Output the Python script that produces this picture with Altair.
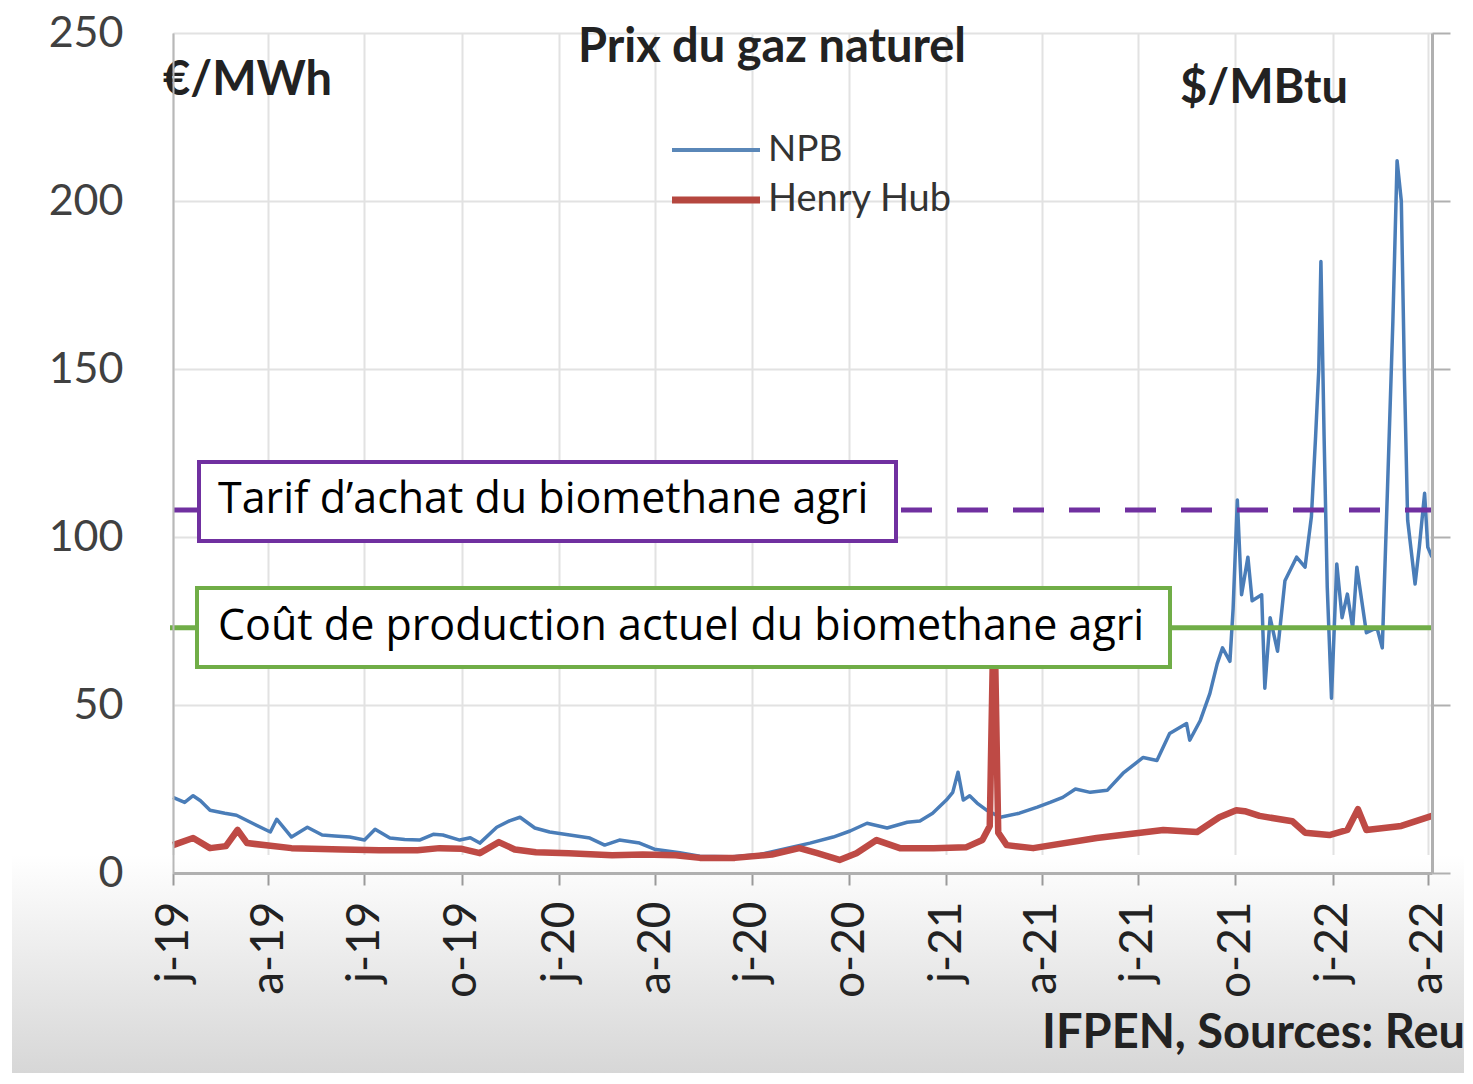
import altair as alt
import pandas as pd

# ---------------- data ----------------
npb_dates = [
    "2019-01-01", "2019-01-12", "2019-01-20", "2019-01-27", "2019-02-05", "2019-02-19",
    "2019-03-02", "2019-03-19", "2019-04-03", "2019-04-09", "2019-04-17", "2019-04-23",
    "2019-05-08", "2019-05-22", "2019-06-03", "2019-06-17", "2019-07-01", "2019-07-11",
    "2019-07-25", "2019-08-08", "2019-08-22", "2019-09-04", "2019-09-13", "2019-09-29",
    "2019-10-09", "2019-10-18", "2019-11-03", "2019-11-15", "2019-11-25", "2019-12-09",
    "2019-12-23", "2020-01-11", "2020-01-30", "2020-02-13", "2020-02-27", "2020-03-17",
    "2020-03-31", "2020-04-24", "2020-05-13", "2020-06-10", "2020-07-09", "2020-08-06",
    "2020-08-25", "2020-09-16", "2020-10-02", "2020-10-18", "2020-11-06", "2020-11-25",
    "2020-12-07", "2020-12-19", "2021-01-01", "2021-01-07", "2021-01-12", "2021-01-17",
    "2021-01-23", "2021-01-30", "2021-02-08", "2021-02-21", "2021-03-11", "2021-03-28",
    "2021-04-09", "2021-04-21", "2021-05-03", "2021-05-17", "2021-06-02", "2021-06-17",
    "2021-07-06", "2021-07-19", "2021-07-31", "2021-08-16", "2021-08-19", "2021-08-29",
    "2021-09-07", "2021-09-14", "2021-09-19", "2021-09-26", "2021-09-29", "2021-10-03",
    "2021-10-07", "2021-10-13", "2021-10-17", "2021-10-26", "2021-10-29", "2021-11-03",
    "2021-11-10", "2021-11-17", "2021-11-28", "2021-12-06", "2021-12-12", "2021-12-16",
    "2021-12-19", "2021-12-21", "2021-12-24", "2021-12-27", "2021-12-31", "2022-01-05",
    "2022-01-10", "2022-01-15", "2022-01-20", "2022-01-24", "2022-02-02", "2022-02-12",
    "2022-02-17", "2022-02-22", "2022-02-27", "2022-03-03", "2022-03-07", "2022-03-10",
    "2022-03-13", "2022-03-20", "2022-03-24", "2022-03-29", "2022-04-01", "2022-04-05",
]
npb_values = [
    22.5, 21.0, 23.0, 21.5, 18.7, 17.8,
    17.2, 14.5, 12.2, 16.0, 13.0, 10.7,
    13.6, 11.3, 11.0, 10.7, 9.8, 13.0,
    10.4, 10.0, 9.8, 11.5, 11.3, 9.8,
    10.5, 8.9, 13.6, 15.5, 16.6, 13.4,
    12.2, 11.3, 10.4, 8.3, 9.8, 8.9,
    7.1, 6.0, 5.0, 4.8, 5.5, 7.5,
    8.9, 10.7, 12.5, 14.8, 13.4, 15.1,
    15.5, 17.8, 21.7, 24.0, 30.0, 21.7,
    23.0, 20.8, 18.7, 16.6, 17.8, 19.6,
    21.0, 22.5, 25.0, 24.0, 24.6, 29.7,
    34.4, 33.5, 41.5, 44.5, 39.5, 45.4,
    53.4, 62.3, 67.0, 63.0, 78.6, 111.0,
    82.8, 94.0, 81.0, 82.8, 55.0, 76.0,
    66.0, 87.0, 94.0, 91.0, 106.0, 130.0,
    150.0, 182.0, 130.0, 85.0, 52.0, 92.0,
    76.0, 83.0, 73.0, 91.0, 71.5, 73.0,
    67.0, 115.0, 164.0, 212.0, 200.0, 147.0,
    105.0, 86.0, 97.0, 113.0, 97.0, 94.0,
]

hh_dates = [
    "2019-01-01", "2019-01-20", "2019-02-05", "2019-02-20", "2019-03-03", "2019-03-12",
    "2019-04-23", "2019-06-10", "2019-07-15", "2019-08-20", "2019-09-10", "2019-10-01",
    "2019-10-18", "2019-11-05", "2019-11-20", "2019-12-10", "2020-01-10", "2020-02-20",
    "2020-03-20", "2020-04-20", "2020-05-13", "2020-06-15", "2020-07-20", "2020-08-15",
    "2020-09-01", "2020-09-22", "2020-10-08", "2020-10-27", "2020-11-18", "2020-12-20",
    "2021-01-20", "2021-02-04", "2021-02-11", "2021-02-14", "2021-02-16", "2021-02-19",
    "2021-02-27", "2021-03-24", "2021-05-23", "2021-07-25", "2021-08-26", "2021-09-16",
    "2021-10-02", "2021-10-10", "2021-10-24", "2021-11-24", "2021-12-06", "2021-12-29",
    "2022-01-15", "2022-01-25", "2022-02-02", "2022-03-07", "2022-04-05",
]
hh_values = [
    8.3, 10.4, 7.4, 8.0, 12.8, 8.9,
    7.4, 7.0, 6.8, 6.8, 7.4, 7.2,
    5.9, 9.2, 7.0, 6.2, 5.9, 5.3,
    5.5, 5.3, 4.5, 4.5, 5.5, 7.4,
    5.9, 3.9, 5.9, 9.8, 7.4, 7.4,
    7.7, 9.8, 14.0, 66.0, 66.0, 12.0,
    8.3, 7.4, 10.4, 12.8, 12.2, 16.6,
    18.7, 18.4, 17.0, 15.4, 12.0, 11.3,
    12.8, 19.0, 12.8, 14.0, 17.0,
]

tick_dates = [
    "2019-01-01", "2019-04-01", "2019-07-01", "2019-10-01",
    "2020-01-01", "2020-04-01", "2020-07-01", "2020-10-01",
    "2021-01-01", "2021-04-01", "2021-07-01", "2021-10-01",
    "2022-01-01", "2022-04-01",
]
y_ticks = [0, 50, 100, 150, 200, 250]
tarif_value = 108
cout_value = 73

# ---------------- layout ----------------
W, H = 1259, 840
LEFT, TOP = 165, 25

def ms(s):
    return int(pd.Timestamp(s).value // 10**6)

npb = pd.DataFrame({"date": npb_dates, "value": npb_values})
hh = pd.DataFrame({"date": hh_dates, "value": hh_values})

xscale = alt.Scale(type="utc", domain=[ms("2019-01-01"), ms("2022-04-05")], nice=False)
yscale = alt.Scale(domain=[0, 250], nice=False, zero=True)

FONT = "Lato"
BOXFONT = "Open Sans"
tick_ms = [ms(d) for d in tick_dates]

# axes with labels (drawn above marks)
x_axis = alt.Axis(
    orient="bottom", values=tick_ms,
    labelExpr="lower(slice(utcFormat(datum.value, '%b'), 0, 1)) + '-' + utcFormat(datum.value, '%y')",
    labelAngle=270, labelFontSize=46, labelColor="#222222", labelFont=FONT,
    labelPadding=16, tickSize=12, tickColor="#9a9a9a", tickWidth=2,
    domainColor="#b0b0b0", domainWidth=3, grid=False,
    title=None, zindex=1, labelOverlap=False,
)
y_axis = alt.Axis(
    orient="left", values=y_ticks, labelFontSize=43, labelColor="#404040", labelFont=FONT,
    labelPadding=50, tickSize=0, domainColor="#b8b8b8", domainWidth=2,
    grid=False, title=None, zindex=1,
)
# grid-only axes (drawn behind marks)
x_grid = alt.Axis(orient="bottom", values=tick_ms, labels=False, ticks=False, domain=False,
                  grid=True, gridColor="#e2e2e2", gridWidth=2, title=None, zindex=0)
y_grid = alt.Axis(orient="left", values=y_ticks, labels=False, ticks=False, domain=False,
                  grid=True, gridColor="#e2e2e2", gridWidth=2, title=None, zindex=0)
y_axis_right = alt.Axis(
    orient="right", values=y_ticks, labels=False, tickSize=18, tickColor="#b0b0b0",
    tickWidth=2, domainColor="#b0b0b0", domainWidth=3, grid=False, title=None, zindex=1,
)

# background grey gradient at the bottom (photo look)
bg = alt.Chart(pd.DataFrame({"a": [0]})).mark_rect(
    color=alt.Gradient(
        gradient="linear",
        stops=[alt.GradientStop(color="#ffffff", offset=0),
               alt.GradientStop(color="#f0f0f0", offset=0.35),
               alt.GradientStop(color="#d6d6d6", offset=1)],
        x1=0, x2=0, y1=0, y2=1,
    )
).encode(x=alt.value(-161), x2=alt.value(1310), y=alt.value(822), y2=alt.value(1045))

npb_line = alt.Chart(npb).mark_line(color="#4a7db8", strokeWidth=3.5, strokeJoin="round").encode(
    x=alt.X("date:T", scale=xscale, axis=x_grid),
    y=alt.Y("value:Q", scale=yscale, axis=y_grid),
)
hh_line = alt.Chart(hh).mark_line(color="#be4a45", strokeWidth=6.5, strokeJoin="round").encode(
    x=alt.X("date:T", scale=xscale, axis=x_axis),
    y=alt.Y("value:Q", scale=yscale, axis=y_axis),
)
right_axis = alt.Chart(hh).mark_line(opacity=0).encode(
    x=alt.X("date:T", scale=xscale, axis=None),
    y=alt.Y("value:Q", scale=yscale, axis=y_axis_right),
)

one = pd.DataFrame({"a": [0]})
tarif_rule = alt.Chart(one).mark_rule(color="#7030a0", strokeWidth=5, strokeDash=[31, 25]).encode(
    x=alt.value(0), x2=alt.value(W), y=alt.YDatum(tarif_value, type="quantitative", scale=yscale, axis=None)
)
cout_rule = alt.Chart(one).mark_rule(color="#70ad47", strokeWidth=5).encode(
    x=alt.value(-3), x2=alt.value(W), y=alt.YDatum(cout_value, type="quantitative", scale=yscale, axis=None)
)

tarif_box = alt.Chart(one).mark_rect(fill="white", stroke="#7030a0", strokeWidth=4).encode(
    x=alt.value(26), x2=alt.value(723), y=alt.value(429), y2=alt.value(508)
)
cout_box = alt.Chart(one).mark_rect(fill="white", stroke="#70ad47", strokeWidth=4).encode(
    x=alt.value(24), x2=alt.value(997), y=alt.value(555), y2=alt.value(634)
)

def label(text, x, y, size, weight="normal", color="#000000", font=FONT, align="left"):
    return alt.Chart(one).mark_text(
        text=text, fontSize=size, fontWeight=weight, color=color, font=font,
        align=align, baseline="middle",
    ).encode(x=alt.value(x), y=alt.value(y))

tarif_text = label("Tarif d\u2019achat du biomethane agri", 45, 467, 43, font=BOXFONT)
cout_text = label("Co\u00fbt de production actuel du biomethane agri", 45, 594, 43, font=BOXFONT)

title = label("Prix du gaz naturel", 599, 15, 47, weight="bold", color="#222222", align="center")
unit_left = label("\u20ac/MWh", -10, 48, 47, weight="bold", color="#222222")
unit_right = label("$/MBtu", 1007, 56, 47, weight="bold", color="#222222")
source = label("IFPEN, Sources: Reu", 869, 1001, 47, weight="bold", color="#222222")

leg_npb = alt.Chart(one).mark_rule(color="#5a87b8", strokeWidth=4).encode(
    x=alt.value(499), x2=alt.value(587), y=alt.value(117)
)
leg_hh = alt.Chart(one).mark_rule(color="#b5473f", strokeWidth=7).encode(
    x=alt.value(499), x2=alt.value(587), y=alt.value(167)
)
leg_npb_t = label("NPB", 595, 117, 37, color="#333333")
leg_hh_t = label("Henry Hub", 595, 167, 38, color="#333333")

chart = alt.layer(
    bg, npb_line, hh_line, right_axis,
    tarif_rule, cout_rule, tarif_box, cout_box, tarif_text, cout_text,
    title, unit_left, unit_right, source, leg_npb, leg_hh, leg_npb_t, leg_hh_t,
).resolve_axis(x="independent", y="independent").properties(
    width=W, height=H,
    autosize=alt.AutoSizeParams(type="none"),
    padding={"left": LEFT, "top": TOP, "right": 32, "bottom": 200},
).configure_view(stroke=None).configure(background="white")

chart.save("out.html", embed_options={"renderer": "svg", "actions": False})
